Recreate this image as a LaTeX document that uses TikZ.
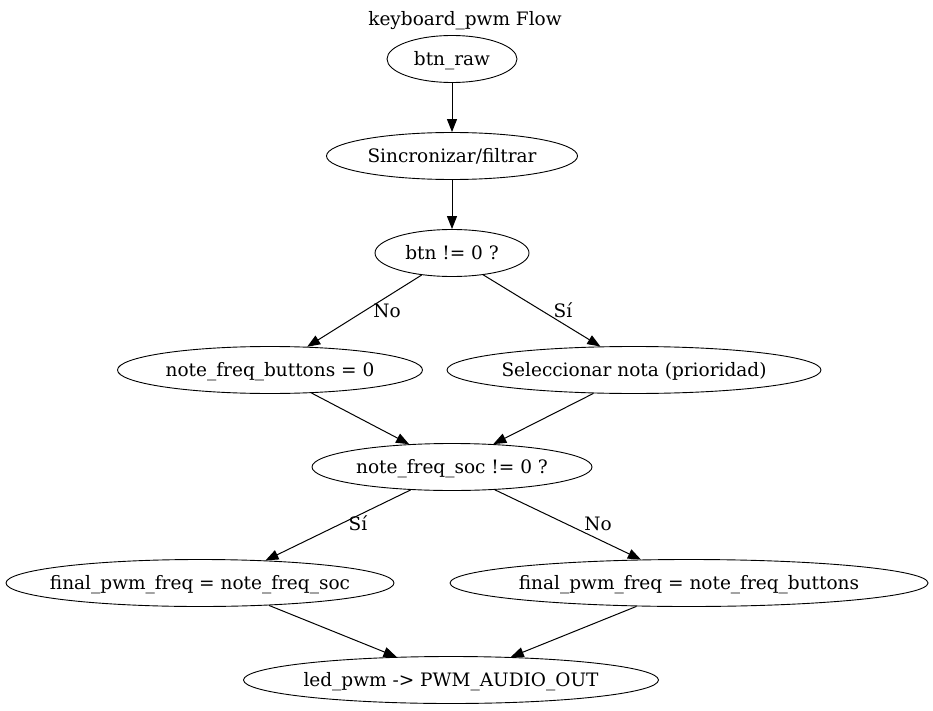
\documentclass[tikz,border=0pt]{standalone}
\usepackage{fontspec}
\setmainfont{DejaVu Serif}
\usetikzlibrary{shapes.geometric,arrows.meta}
% text sits 2pt low inside a fixed-size box so every label shares one baseline offset
\newcommand{\labeltext}[1]{\raisebox{-2pt}[0.7\baselineskip][0.3\baselineskip]{#1}}
% node text is boxed at zero width so the ellipse keeps its given size
\newcommand{\flowtext}[1]{\makebox[0pt]{\labeltext{#1}}}
\begin{document}
\begin{tikzpicture}[x=1pt,y=-1pt,
  every node/.style={font=\fontsize{18.5}{22}\selectfont},
  flownode/.style={ellipse,draw,line width=0.9pt,inner sep=0pt,minimum height=47pt},
  flowedge/.style={draw,line width=1pt,-{Triangle[length=13pt,width=10pt]}},
  edgelabel/.style={inner sep=1pt}]
\useasboundingbox (0,0) rectangle (933,711);

\node (title) at (465,19) {\labeltext{keyboard\_pwm Flow}};

\node[flownode,minimum width=130pt] (raw)  at (452,59)  {\flowtext{btn\_raw}};
\node[flownode,minimum width=251pt] (sync) at (452,156) {\flowtext{Sincronizar/filtrar}};
\node[flownode,minimum width=154pt] (btn)  at (452,253) {\flowtext{btn != 0 ?}};
\node[flownode,minimum width=305pt] (zero) at (270,370) {\flowtext{note\_freq\_buttons = 0}};
\node[flownode,minimum width=374pt] (sel)  at (634,370) {\flowtext{Seleccionar nota (prioridad)}};
\node[flownode,minimum width=280pt] (soc)  at (452,467) {\flowtext{note\_freq\_soc != 0 ?}};
\node[flownode,minimum width=388pt] (fsoc) at (200,583) {\flowtext{final\_pwm\_freq = note\_freq\_soc}};
\node[flownode,minimum width=478pt] (fbtn) at (689,583) {\flowtext{final\_pwm\_freq = note\_freq\_buttons}};
\node[flownode,minimum width=415pt] (out)  at (451,680) {\flowtext{led\_pwm -> PWM\_AUDIO\_OUT}};

\path[flowedge] (raw) -- (sync);
\path[flowedge] (sync) -- (btn);
\path[flowedge] (btn.-144.8) -- (zero.32.6);
\path[flowedge] (btn.-35.2) -- (sel.145.9);
\path[flowedge] (zero.-29.7) -- (soc.152.4);
\path[flowedge] (sel.-150.3) -- (soc.29.3);
\path[flowedge] (soc.-151.9) -- (fsoc.19.5);
\path[flowedge] (soc.-28.1) -- (fbtn.154.4);
\path[flowedge] (fsoc.-18.4) -- (out.157.8);
\path[flowedge] (fbtn.-156.8) -- (out.21.8);

\node[edgelabel] (lno1) at (387,311) {\labeltext{No}};
\node[edgelabel] (lsi1) at (563,311) {\labeltext{Sí}};
\node[edgelabel] (lsi2) at (358,524) {\labeltext{Sí}};
\node[edgelabel] (lno2) at (598,524) {\labeltext{No}};
\end{tikzpicture}
\end{document}
